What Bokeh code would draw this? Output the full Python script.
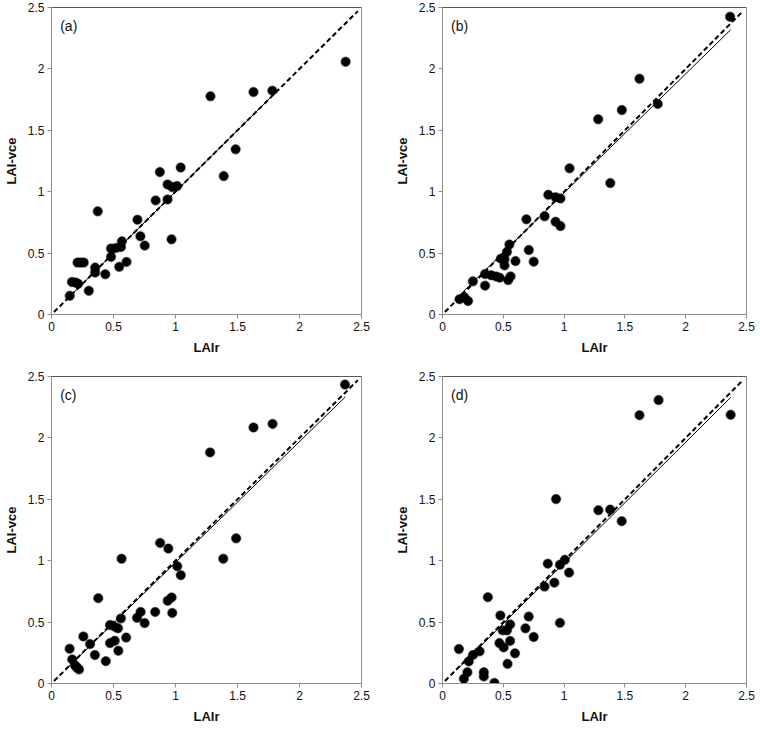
from bokeh.plotting import figure
from bokeh.layouts import row, column
from bokeh.models import Range1d, FixedTicker, Label, Span
from bokeh.embed import file_html
from bokeh.resources import INLINE

# ---------------- data ----------------
ticks = [0, 0.5, 1, 1.5, 2, 2.5]
tick_labels = ["0", "0.5", "1", "1.5", "2", "2.5"]
x_title = "LAIr"
y_title = "LAI-vce"
panel_tags = ["(a)", "(b)", "(c)", "(d)"]

a_x = [0.147, 0.165, 0.195, 0.215, 0.21, 0.235, 0.26, 0.301, 0.352, 0.352, 0.373, 0.434,
       0.480, 0.480, 0.520, 0.546, 0.560, 0.568, 0.605, 0.693, 0.717, 0.752, 0.840, 0.874,
       0.936, 0.936, 0.973, 1.013, 0.968, 1.042, 1.282, 1.389, 1.485, 1.629, 1.781, 2.372]
a_y = [0.152, 0.265, 0.26, 0.25, 0.423, 0.423, 0.423, 0.193, 0.382, 0.342, 0.840, 0.328,
       0.469, 0.537, 0.542, 0.388, 0.550, 0.596, 0.428, 0.772, 0.637, 0.561, 0.929, 1.160,
       0.937, 1.059, 1.038, 1.046, 0.612, 1.197, 1.777, 1.127, 1.345, 1.812, 1.823, 2.058]

b_x = [0.14, 0.18, 0.21, 0.25, 0.35, 0.35, 0.40, 0.44, 0.47, 0.48, 0.51, 0.51, 0.53, 0.55,
       0.54, 0.56, 0.60, 0.69, 0.71, 0.75, 0.84, 0.87, 0.93, 0.97, 0.93, 0.97, 1.045, 1.28,
       1.38, 1.475, 1.62, 1.77, 2.365]
b_y = [0.125, 0.14, 0.11, 0.27, 0.33, 0.235, 0.32, 0.31, 0.30, 0.455, 0.45, 0.40, 0.51, 0.57,
       0.28, 0.31, 0.435, 0.775, 0.525, 0.43, 0.80, 0.975, 0.955, 0.945, 0.755, 0.72, 1.19, 1.59,
       1.07, 1.665, 1.92, 1.715, 2.425]

c_x = [0.146, 0.167, 0.19, 0.205, 0.222, 0.257, 0.311, 0.350, 0.377, 0.438, 0.472, 0.472,
       0.510, 0.510, 0.536, 0.539, 0.560, 0.565, 0.602, 0.690, 0.719, 0.751, 0.836, 0.876,
       0.937, 0.969, 0.942, 0.974, 1.014, 1.043, 1.279, 1.385, 1.489, 1.629, 1.783, 2.367]
c_y = [0.283, 0.196, 0.147, 0.13, 0.115, 0.383, 0.321, 0.232, 0.695, 0.182, 0.476, 0.329,
       0.348, 0.463, 0.450, 0.267, 0.530, 1.016, 0.374, 0.535, 0.583, 0.492, 0.583, 1.145,
       0.674, 0.701, 1.099, 0.575, 0.955, 0.882, 1.882, 1.016, 1.182, 2.085, 2.114, 2.434]

d_x = [0.135, 0.176, 0.205, 0.216, 0.251, 0.305, 0.34, 0.34, 0.427, 0.373, 0.476, 0.468,
       0.503, 0.495, 0.53, 0.556, 0.556, 0.535, 0.596, 0.682, 0.709, 0.75, 0.839, 0.866,
       0.92, 0.934, 0.966, 1.006, 1.041, 0.966, 1.282, 1.379, 1.474, 1.62, 1.777, 2.37]
d_y = [0.281, 0.039, 0.092, 0.18, 0.233, 0.262, 0.092, 0.058, 0.005, 0.703, 0.554, 0.329,
       0.294, 0.433, 0.433, 0.481, 0.347, 0.16, 0.246, 0.449, 0.545, 0.379, 0.789, 0.976,
       0.821, 1.502, 0.967, 1.007, 0.903, 0.494, 1.411, 1.416, 1.322, 2.185, 2.308, 2.188]

# 1:1 reference line and fitted trend lines (x extent, slope, intercept)
one_to_one_x = [0.02, 2.47]
a_fit = ([0.12, 1.78], 1.0, 0.0)
b_fit = ([0.10, 2.37], 0.97, 0.02)
c_fit = ([0.14, 2.37], 0.985, 0.0)
d_fit = ([0.14, 2.37], 0.985, -0.005)

FONT = "Liberation Sans"
AXIS_GREY = "#8c8c8c"


def make_panel(tag, xs, ys, fit, frame_w, frame_h, bl, br, bt, bb):
    p = figure(frame_width=frame_w, frame_height=frame_h,
               x_range=Range1d(0, 2.5), y_range=Range1d(0, 2.5),
               output_backend="svg", toolbar_location=None,
               min_border_left=bl, min_border_right=br,
               min_border_top=bt, min_border_bottom=bb,
               background_fill_color="white", border_fill_color="white")
    p.outline_line_color = AXIS_GREY
    p.xgrid.visible = False
    p.ygrid.visible = False
    overrides = {t: l for t, l in zip(ticks, tick_labels)}
    for ax in (p.xaxis[0], p.yaxis[0]):
        ax.ticker = FixedTicker(ticks=ticks)
        ax.major_label_overrides = overrides
        ax.axis_line_color = AXIS_GREY
        ax.major_tick_line_color = AXIS_GREY
        ax.major_tick_in = 0
        ax.major_tick_out = 4
        ax.minor_tick_line_color = None
        ax.major_label_text_font = FONT
        ax.major_label_text_font_size = "12px"
        ax.major_label_text_color = "#111111"
        ax.major_label_standoff = 3
        ax.axis_label_text_font = FONT
        ax.axis_label_text_font_size = "13px"
        ax.axis_label_text_font_style = "bold"
        ax.axis_label_text_color = "#111111"
        ax.axis_label_standoff = 6
    p.xaxis[0].axis_label = x_title
    p.yaxis[0].axis_label = y_title

    p.add_layout(Span(location=2.5, dimension="width", line_color="#222222", line_width=1))

    # soft shadow + markers
    p.scatter(xs, ys, size=11, fill_color="#000000", fill_alpha=0.18, line_color=None)
    p.scatter(xs, ys, size=9, fill_color="#000000", line_color="#000000", line_width=0.5)

    # 1:1 dashed line
    p.line(one_to_one_x, one_to_one_x, line_color="black", line_width=2, line_dash="5 3")
    # trend line
    fx, slope, icpt = fit
    p.line(fx, [slope * v + icpt for v in fx], line_color="black", line_width=1)

    p.add_layout(Label(x=0.07, y=2.35, text=tag, text_baseline="middle",
                       text_font=FONT, text_font_size="14px", text_color="#111111"))
    return p


pa = make_panel(panel_tags[0], a_x, a_y, a_fit, 310, 307, 40, 30, 7, 55)
pb = make_panel(panel_tags[1], b_x, b_y, b_fit, 304, 307, 40, 12, 7, 55)
pc = make_panel(panel_tags[2], c_x, c_y, c_fit, 310, 307, 40, 30, 7, 42)
pd = make_panel(panel_tags[3], d_x, d_y, d_fit, 304, 307, 40, 12, 7, 42)

layout = column(row(pa, pb), row(pc, pd))
open("out.html", "w").write(file_html(layout, INLINE))
